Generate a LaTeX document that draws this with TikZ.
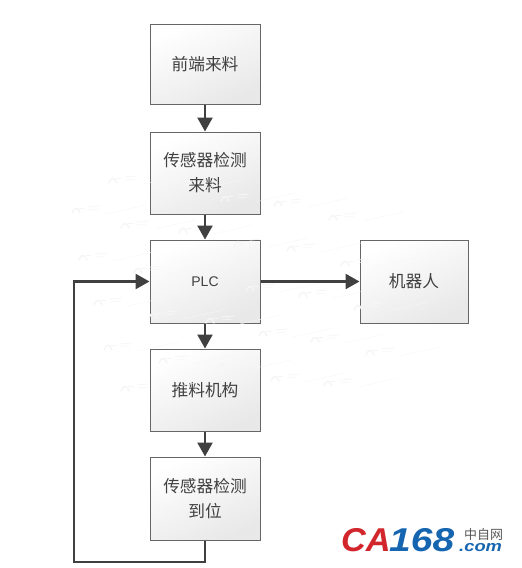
\documentclass[tikz,border=0pt]{standalone}
\usepackage{fontspec}
\setmainfont{Noto Sans CJK SC}
\newfontfamily\logofont{Liberation Sans}[BoldItalicFont={Liberation Sans Bold Italic}]
\usetikzlibrary{arrows.meta,backgrounds}
\definecolor{edgeC}{HTML}{404040}
\definecolor{boxB}{HTML}{E8E8E8}
\definecolor{frameC}{HTML}{666666}
\definecolor{logoR}{HTML}{D2262C}
\definecolor{logoB}{HTML}{1565B0}
\tikzset{
  flowbox/.style={draw=frameC,line width=1pt,minimum width=110pt,minimum height=#1,
    inner sep=0pt,align=center,font=\fontsize{16.7pt}{25pt}\selectfont,text=black!75,
    top color=white,bottom color=boxB,shading angle=25},
  conn/.style={draw=edgeC,line width=2.5pt,-{Triangle[length=14pt,width=15pt]}},
  logotext/.style={anchor=base west,inner sep=0pt},
  wmark/.style={draw=black!4,line width=1.4pt,line cap=round},
  wline/.style={draw=black!3,line width=.4pt},
}
\begin{document}
\begin{tikzpicture}[x=1pt,y=-1pt]
\useasboundingbox (0,0) rectangle (522,568);
\fill[white] (0,0) rectangle (522,568);
\node[flowbox=80pt] (a) at (205,64) {前端来料};
\node[flowbox=82pt] (b) at (205,173) {传感器检测\\来料};
\node[flowbox=83pt,font=\logofont\fontsize{14pt}{18pt}\selectfont] (c) at (205,281.5) {PLC};
\node[flowbox=82pt] (d) at (205,390) {推料机构};
\node[flowbox=83pt] (e) at (205,498.5) {传感器检测\\到位};
\node[flowbox=83pt,minimum width=108pt] (r) at (414,281.5) {机器人};
\begin{scope}[on background layer]
  \foreach \n in {a,b,c,d,e,r}
    \fill[black!10] ([shift={(3pt,3pt)}]\n.north west) rectangle ([shift={(3pt,3pt)}]\n.south east);
\end{scope}
% faint watermark marks
\foreach \x/\y in {115/180,78/210,127/225,173/185,227/198,185/230,85/257,140/270,240/243,252/288,
  100/302,155/315,212/320,110/347,165/360,223/365,127/388,280/203,335/217,293/248,347/263,
  305/294,360/307,265/333,317/339,372/352,277/378,330/383}{
  \draw[wmark] (\x-6,\y+3) .. controls (\x-4,\y-3) and (\x,\y-3) .. (\x+2,\y+3);
  \draw[wmark,line width=1pt] (\x+1,\y-2) -- (\x+6,\y-2);
  \draw[wmark,line width=.8pt,draw=black!3] (\x+10,\y-3) -- (\x+22,\y-4);
  \draw[wmark,line width=.6pt,draw=black!3] (\x+10,\y) -- (\x+20,\y-1);
  \draw[wline] (\x+28,\y+4) -- (\x+68,\y-5);
}
\coordinate (b1) at (205,562);
\coordinate (b2) at (74,562);
\coordinate (b3) at (74,281.5);
\draw[conn] (a) -- (b);
\draw[conn] (b) -- (c);
\draw[conn] (c) -- (d);
\draw[conn] (d) -- (e);
\draw[conn] (c) -- (r);
\draw[conn] (e.south) -- (b1) -- (b2) -- (b3) -- (c.west);
% logo
\node[logotext,font=\logofont\bfseries\itshape\fontsize{33pt}{33pt}\selectfont,text=logoR,xscale=1.04] (l1) at (341,551.5) {CA};
\node[logotext,font=\logofont\bfseries\itshape\fontsize{33pt}{33pt}\selectfont,text=logoB,xscale=1.18] (l2) at (389,551.5) {168};
\node[logotext,font=\fontsize{13pt}{13pt}\selectfont,text=black!65] (l3) at (464,539) {中自网};
\node[logotext,font=\logofont\bfseries\itshape\fontsize{15pt}{15pt}\selectfont,text=logoB,xscale=1.22] (l4) at (459,551.5) {.com};
\end{tikzpicture}
\end{document}
